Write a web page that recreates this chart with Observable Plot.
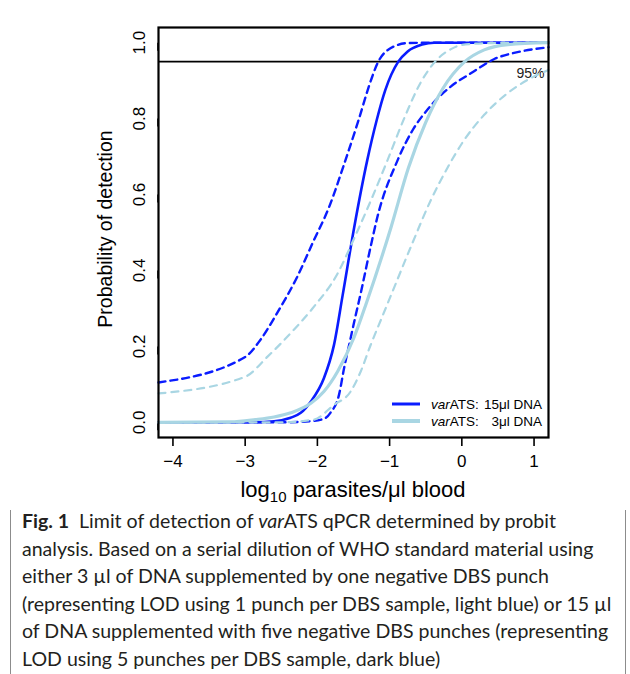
<!DOCTYPE html>
<html>
<head>
<meta charset="utf-8">
<script src="https://cdn.jsdelivr.net/npm/d3@7"></script>
<script src="https://cdn.jsdelivr.net/npm/@observablehq/plot@0.6"></script>
<style>
  html, body { margin: 0; padding: 0; background: #fff; }
  body { width: 630px; height: 674px; position: relative; overflow: hidden; }
  #border { position: absolute; left: 10px; top: 13px; width: 616px; height: 720px;
            border: 1.5px solid #8c8c8c; border-radius: 14px; box-sizing: border-box; }
  #chart { position: absolute; left: 0; top: 0; }
  #caption { position: absolute; left: 22px; top: 507px; color: #231f20;
             font-family: Lato, "Open Sans", sans-serif; font-size: 19.5px; line-height: 27.6px; }
  #caption div { white-space: nowrap; }
</style>
</head>
<body>
<div id="border"></div>
<div id="chart"></div>
<div id="caption">
  <div class="ln"><b>Fig. 1</b>&nbsp; Limit of detection of <i>var</i>ATS qPCR determined by probit</div>
  <div class="ln">analysis. Based on a serial dilution of WHO standard material using</div>
  <div class="ln">either 3 µl of DNA supplemented by one negative DBS punch</div>
  <div class="ln">(representing LOD using 1 punch per DBS sample, light blue) or 15 µl</div>
  <div class="ln">of DNA supplemented with five negative DBS punches (representing</div>
  <div class="ln">LOD using 5 punches per DBS sample, dark blue)</div>
</div>
<script>
// ---- data ----
const xTicks = [-4, -3, -2, -1, 0, 1];
const yTicks = [0, 0.2, 0.4, 0.6, 0.8, 1.0];
const threshold = 0.95;
const thresholdLabel = "95%";

// 15 µl DNA (dark blue): fit and confidence bounds
const fit15X   = [-4.2, -3.0, -2.6, -2.37, -2.23, -2.09, -1.91, -1.77, -1.65, -1.49, -1.31, -1.18, -1.06, -0.88, -0.75, -0.55, -0.385, 0, 1.2];
const fit15P   = [0, 0, 0.003, 0.012, 0.025, 0.055, 0.116, 0.204, 0.335, 0.514, 0.69, 0.795, 0.875, 0.95, 0.977, 0.995, 1.0, 1.0, 1.0];
const upper15X = [-4.2, -3.0, -2.79, -2.56, -2.28, -2.05, -1.84, -1.63, -1.44, -1.26, -1.17, -1.03, -0.75, -0.4, 1.2];
const upper15P = [0.105, 0.172, 0.217, 0.287, 0.383, 0.479, 0.566, 0.68, 0.79, 0.9, 0.945, 0.98, 0.999, 1.0, 1.0];
const lower15X = [-4.2, -2.5, -2.09, -1.9, -1.82, -1.70, -1.63, -1.56, -1.49, -1.40, -1.26, -1.17, -0.89, -0.68, -0.47, -0.15, 0.13, 0.45, 0.82, 1.2];
const lower15P = [0, 0, 0.003, 0.01, 0.025, 0.073, 0.143, 0.204, 0.265, 0.34, 0.465, 0.54, 0.69, 0.77, 0.825, 0.885, 0.92, 0.957, 0.977, 0.988];

// 3 µl DNA (light blue): fit and confidence bounds
const fit3X   = [-4.2, -3.2, -2.86, -2.6, -2.37, -2.09, -1.91, -1.72, -1.49, -1.32, -0.98, -0.74, -0.5, -0.26, 0.04, 0.31, 0.64, 1.2];
const fit3P   = [0, 0.001, 0.007, 0.014, 0.025, 0.05, 0.081, 0.134, 0.225, 0.315, 0.514, 0.67, 0.79, 0.88, 0.95, 0.981, 0.995, 1.0];
const upper3X = [-4.2, -3.0, -2.69, -2.33, -2.05, -1.72, -1.49, -1.26, -1.03, -0.8, -0.57, -0.33, -0.15, 0.0, 0.4, 1.2];
const upper3P = [0.076, 0.12, 0.173, 0.243, 0.304, 0.392, 0.485, 0.584, 0.69, 0.8, 0.895, 0.958, 0.983, 0.994, 0.999, 1.0];
const lower3X = [-4.2, -2.5, -2.05, -1.77, -1.54, -1.40, -1.26, -1.12, -0.98, -0.70, -0.43, -0.2, 0.02, 0.31, 0.64, 0.92, 1.2];
const lower3P = [0, 0, 0.007, 0.046, 0.081, 0.134, 0.205, 0.27, 0.335, 0.465, 0.585, 0.67, 0.74, 0.81, 0.868, 0.903, 0.928];

const dark = "#0a1cff";
const light = "#a9d6e3";

const rows = (xs, ps) => xs.map((x, i) => ({x, p: ps[i]}));

const W = 630, H = 510;
const minus = d => (d < 0 ? "\u2212" + Math.abs(d) : String(d));

const plot = Plot.plot({
  width: W, height: H,
  marginLeft: 158, marginRight: 82, marginTop: 27, marginBottom: 73,
  style: {fontFamily: "'Liberation Sans', Arial, Helvetica, sans-serif", color: "black", background: "white"},
  x: {domain: [-4.2, 1.2]},
  y: {domain: [-0.04, 1.04]},
  marks: [
    Plot.axisX({ticks: xTicks, tickSize: 9, tickPadding: 8, tickFormat: minus, label: null, strokeWidth: 1.6}),
    Plot.axisY({ticks: yTicks, tickSize: 8, tickPadding: 6, tickFormat: d3.format(".1f"),
                rotate: -90, textAnchor: "middle", lineAnchor: "bottom", label: null, strokeWidth: 1.6}),
    Plot.ruleY([threshold], {stroke: "black", strokeWidth: 1.6}),
    Plot.text([thresholdLabel], {y: [threshold], frameAnchor: "right", textAnchor: "end", dx: -4, dy: 12, fill: "#222"}),
    Plot.line(rows(fit15X, fit15P), {x: "x", y: "p", curve: "monotone-x", stroke: dark, strokeWidth: 2.6}),
    Plot.line(rows(upper15X, upper15P), {x: "x", y: "p", curve: "monotone-x", stroke: dark, strokeWidth: 2.4, strokeDasharray: "7,5"}),
    Plot.line(rows(lower15X, lower15P), {x: "x", y: "p", curve: "monotone-x", stroke: dark, strokeWidth: 2.4, strokeDasharray: "7,5"}),
    Plot.line(rows(fit3X, fit3P), {x: "x", y: "p", curve: "monotone-x", stroke: light, strokeWidth: 3.2}),
    Plot.line(rows(upper3X, upper3P), {x: "x", y: "p", curve: "monotone-x", stroke: light, strokeWidth: 2.2, strokeDasharray: "7,6"}),
    Plot.line(rows(lower3X, lower3P), {x: "x", y: "p", curve: "monotone-x", stroke: light, strokeWidth: 2.2, strokeDasharray: "7,6"}),
    Plot.frame({stroke: "black", strokeWidth: 2.2})
  ]
});
document.getElementById("chart").appendChild(plot);

const svg = d3.select(plot);
// enlarge the library's own text (tick labels and the 95% label)
svg.selectAll("text").each(function () {
  d3.select(this).style("font-size", this.textContent === thresholdLabel ? "14px" : "17px");
});

const ff = "'Liberation Sans', Arial, Helvetica, sans-serif";
const plotCx = (158 + (W - 82)) / 2;
const plotCy = (27 + (H - 73)) / 2;

const xt = svg.append("text").attr("x", plotCx).attr("y", 497).attr("text-anchor", "middle")
  .attr("font-family", ff).style("font-size", "22px").attr("fill", "black");
xt.append("tspan").text("log");
xt.append("tspan").style("font-size", "15px").attr("dy", 5).text("10");
xt.append("tspan").attr("dy", -5).text(" parasites/\u03bcl blood");

svg.append("text").attr("transform", `translate(107,${plotCy - 3}) rotate(-90)`).attr("text-anchor", "middle")
  .attr("dominant-baseline", "middle")
  .attr("font-family", ff).style("font-size", "19.5px").attr("fill", "black").text("Probability of detection");

const legend = [
  {color: dark, width: 3, num: "15\u03bcl DNA", y: 404},
  {color: light, width: 4, num: "3\u03bcl DNA", y: 421}
];
for (const L of legend) {
  svg.append("line").attr("x1", 392).attr("x2", 420).attr("y1", L.y).attr("y2", L.y)
    .attr("stroke", L.color).attr("stroke-width", L.width);
  const t = svg.append("text").attr("x", 431).attr("y", L.y + 5).attr("text-anchor", "start").attr("font-family", ff)
    .style("font-size", "13.5px").attr("fill", "black");
  t.append("tspan").attr("font-style", "italic").text("var");
  t.append("tspan").text("ATS:");
  svg.append("text").attr("x", 542).attr("y", L.y + 5).attr("text-anchor", "end").attr("font-family", ff)
    .style("font-size", "13.5px").attr("fill", "black").text(L.num);
}

// fit caption lines to the reference text width
const lines = Array.from(document.querySelectorAll("#caption .ln"));
const maxW = d3.max(lines, el => { el.style.display = "inline-block"; const w = el.getBoundingClientRect().width; el.style.display = "block"; return w; });
const cap = document.getElementById("caption");
const fs = parseFloat(getComputedStyle(cap).fontSize);
cap.style.fontSize = (fs * 590 / maxW) + "px";
</script>
</body>
</html>
